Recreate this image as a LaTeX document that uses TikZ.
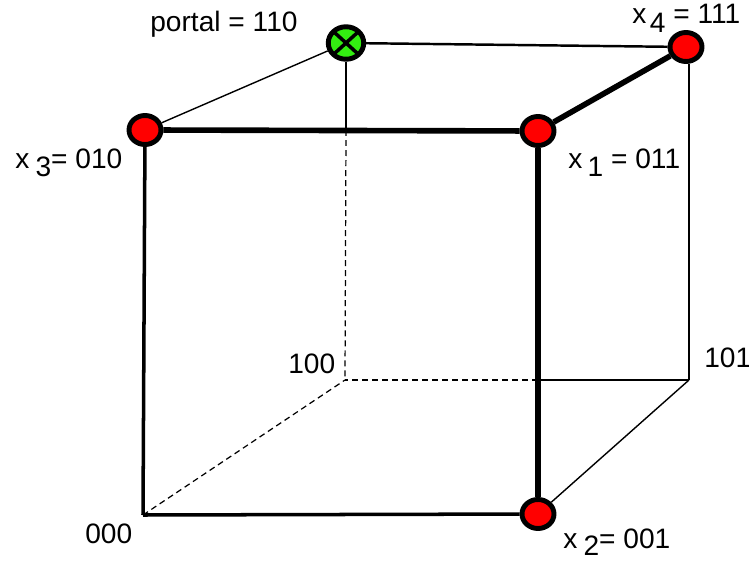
\documentclass[tikz,border=0pt]{standalone}
\usepackage{fontspec}
\setmainfont{Liberation Sans}
\definecolor{NodeRed}{HTML}{FF0000}
\definecolor{PortalGreen}{HTML}{33EE11}
\usetikzlibrary{positioning,shapes.geometric,backgrounds}

\begin{document}
\begin{tikzpicture}[
  x=0.02cm, y=-0.02cm,
  vertex/.style={
    ellipse,
    draw,
    line width=2.8pt,
    fill=NodeRed,
    minimum width=0.64cm,
    minimum height=0.58cm,
    inner sep=0pt
  },
  portal/.style={
    vertex,
    fill=PortalGreen,
    minimum width=0.71cm,
    minimum height=0.65cm,
    path picture={
      \draw[line width=2pt]
        (path picture bounding box.north west) -- (path picture bounding box.south east)
        (path picture bounding box.south west) -- (path picture bounding box.north east);
    }
  },
  lbl/.style={
    font=\fontsize{16}{19}\selectfont,
    inner sep=0pt,
    anchor=base west
  },
  pathedge/.style={line width=3.2pt},
  frontedge/.style={line width=2pt},
  backedge/.style={line width=1.4pt},
  thinedge/.style={line width=0.8pt},
  hidden/.style={line width=0.7pt, dash pattern=on 3.4pt off 2.3pt}
]
\useasboundingbox (0,0) rectangle (749,563);

% =========================================================
% CUBE CORNERS
% =========================================================

\coordinate (c000) at (143,515);
\coordinate (c100) at (345,380);
\coordinate (c101) at (689,380);

\node[vertex] (x3) at (145,130) {};
\node[vertex] (x1) at (538,131) {};
\node[vertex] (x2) at (538,514) {};
\node[vertex] (x4) at (686,47) {};
\node[portal] (gate) at (346,43) {};

% where hidden edges come out from behind the front face
\coordinate (gatecut) at (gate |- x3);
\coordinate (backcut) at (x1 |- c100);

% =========================================================
% EDGES
% =========================================================

\begin{scope}[on background layer]
\draw[frontedge] (c000) -- (x2);
\draw[frontedge] (c000) -- (x3);

\draw[pathedge] (x3) -- (x1);
\draw[pathedge] (x1) -- (x2);
\draw[pathedge] (x1) -- (x4);

\draw[thinedge] (x3) -- (gate);
\draw[backedge] (gate) -- (x4);
\draw[backedge] (x4.south -| c101) -- (c101);
\draw[thinedge] (c101) -- (x2);

\draw[backedge] (gate) -- (gatecut);
\draw[hidden] (gatecut) -- (c100);
\draw[backedge] (c101) -- (backcut);
\draw[hidden] (backcut) -- (c100);
\draw[hidden] (c000) -- (c100);
\end{scope}

% =========================================================
% LABELS
% =========================================================

\node[lbl] (gatelbl) at (150,32) {portal = 110};
\node[lbl] (x4lbl) at (632,24) {x\kern2pt\raisebox{-5pt}{4} = 111};
\node[lbl] (x3lbl) at (15,169) {x\kern3.5pt\raisebox{-4.5pt}{3}= 010};
\node[lbl] (x1lbl) at (568,169) {x\kern3pt\raisebox{-4pt}{1} = 011};
\node[lbl] (x2lbl) at (563,548) {x\kern3.5pt\raisebox{-4pt}{2}= 001};
\node[lbl] (l100) at (288,373) {100};
\node[lbl] (l101) at (704,367) {101};
\node[lbl] (l000) at (85,543) {000};

\end{tikzpicture}
\end{document}
